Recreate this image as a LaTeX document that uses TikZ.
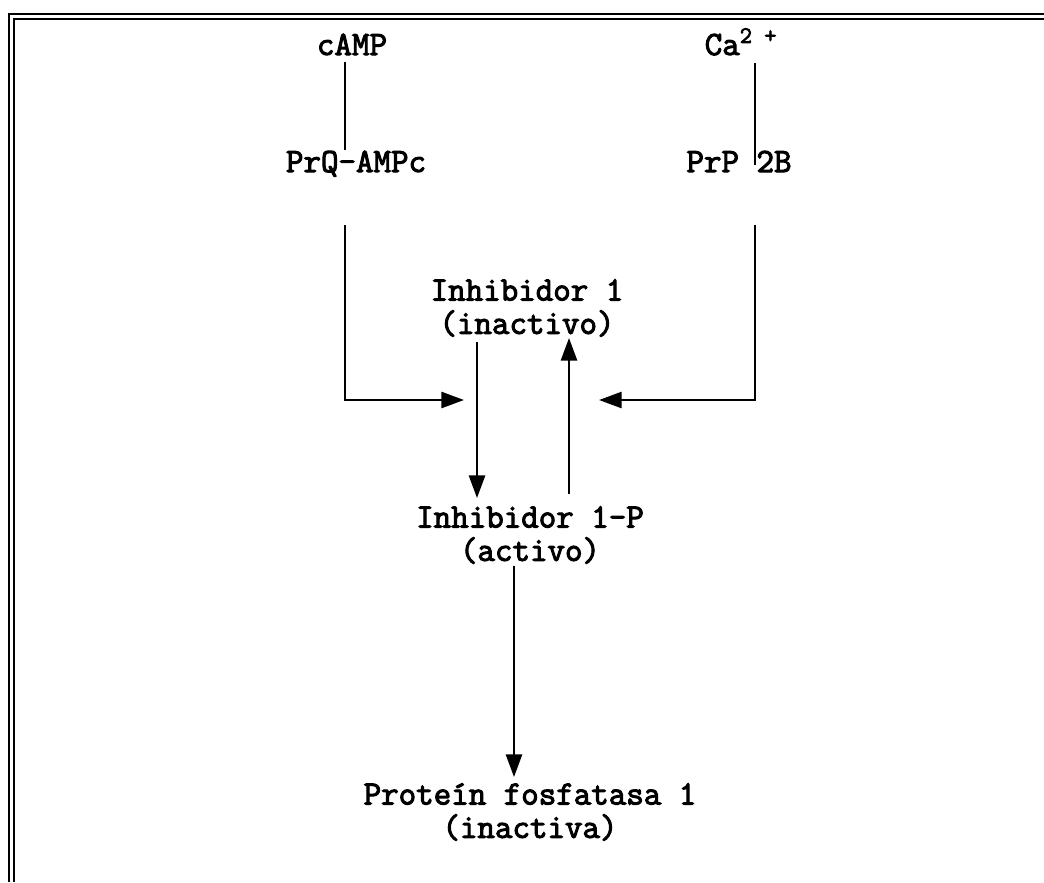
\documentclass[tikz,border=0pt]{standalone}
\usepackage{fontspec}
\newfontfamily\typfont[FakeBold=3]{Latin Modern Mono}
\usetikzlibrary{arrows.meta, calc}

\begin{document}
\begin{tikzpicture}[
  x=0.75pt, y=-0.75pt,
  font=\fontsize{25.5}{25}\selectfont\typfont,
  lbl/.style={inner sep=0pt, align=center},
  ln/.style={line width=2pt},
  arr/.style={-{Triangle[length=17pt, width=12pt]}, line width=2pt},
  frm/.style={line width=1.6pt}
]
  \useasboundingbox (0,0) rectangle (1044,882);
  % doble marco arriba e izquierda
  \foreach \d in {0,5} \draw[frm] (1044,14+\d) -- (9+\d,14+\d) -- (9+\d,882);

  \node[lbl, anchor=base] (camp) at (352,55) {cAMP};
  \node[lbl, anchor=base] (ca) at (741,55) {Ca\textsuperscript{2 +}};
  \node[lbl, anchor=base] (prq) at (356,172) {PrQ-AMPc};
  \node[lbl, anchor=base] (prp) at (739,172) {PrP 2B};
  \node[lbl] (inh) at (527,308) {Inhibidor 1\\(inactivo)};
  \node[lbl] (inhp) at (530,535) {Inhibidor 1-P\\(activo)};
  \node[lbl] (pp1) at (530,812) {Proteín fosfatasa 1\\(inactiva)};

  \coordinate (xl) at (345,0);
  \coordinate (xr) at (755,0);
  \coordinate (xd) at (477,0);
  \coordinate (xu) at (569,0);
  \coordinate (xp) at (514,0);
  \coordinate (inl) at (464,400);
  \coordinate (inr) at (599,400);

  \draw[ln] ($(camp.south -| xl)+(0,7)$) -- (prq.north -| xl);
  \draw[ln] ($(ca.south -| xr)+(0,7)$) -- ($(prp.base -| xr)+(0,-7)$);
  \draw[arr] ($(prq.base -| xl)+(0,53)$) |- (inl);
  \draw[arr] ($(prp.base -| xr)+(0,53)$) |- (inr);
  \draw[arr] ($(inh.south -| xd)+(0,5)$) -- ($(inhp.north -| xd)+(0,-8)$);
  \draw[arr] ($(inhp.north -| xu)+(0,-12)$) -- ($(inh.south -| xu)+(0,1)$);
  \draw[arr] ($(inhp.south -| xp)+(0,2)$) -- ($(pp1.north -| xp)+(0,-6)$);
\end{tikzpicture}
\end{document}
